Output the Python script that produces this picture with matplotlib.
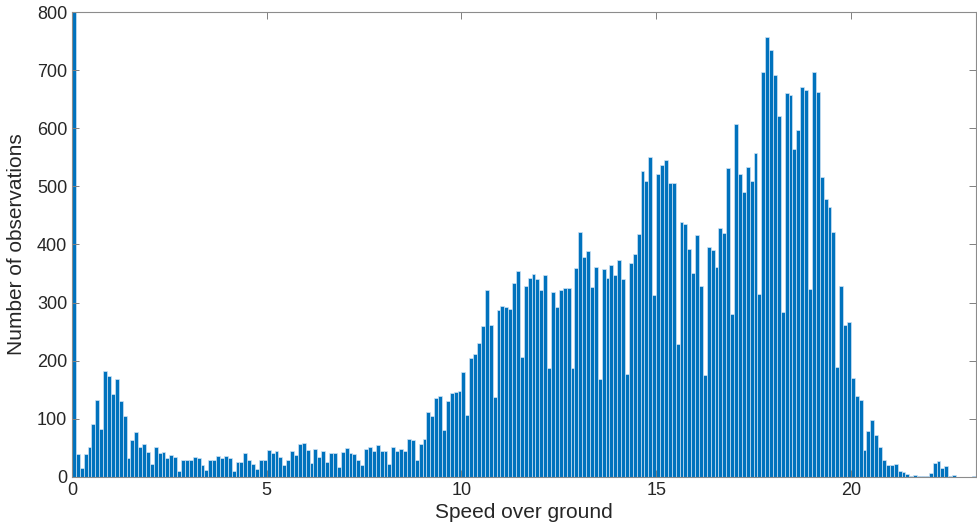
import matplotlib
matplotlib.use("Agg")
import matplotlib.pyplot as plt
import numpy as np

plt.rcParams['font.family'] = ['Liberation Sans', 'DejaVu Sans']

bin_width = 0.1
# counts per 0.1-knot bin starting at 0 (first bin exceeds the axis limit)
counts = [
    1200, 40, 15, 40, 52, 92, 132, 83, 183, 174,
    143, 168, 130, 105, 33, 64, 78, 52, 57, 43,
    22, 52, 41, 43, 33, 37, 35, 10, 29, 30,
    30, 34, 32, 21, 12, 29, 30, 36, 33, 36,
    33, 10, 25, 26, 42, 29, 23, 13, 30, 29,
    46, 41, 45, 34, 21, 29, 45, 37, 57, 58,
    46, 24, 49, 34, 45, 25, 42, 41, 18, 43,
    50, 42, 40, 30, 21, 48, 51, 45, 55, 45,
    45, 22, 51, 44, 48, 45, 65, 64, 29, 56,
    65, 112, 105, 136, 139, 80, 130, 144, 146, 148,
    180, 107, 205, 211, 230, 259, 321, 261, 138, 288,
    295, 292, 289, 333, 355, 206, 329, 342, 349, 340,
    322, 348, 187, 318, 292, 321, 326, 326, 187, 360,
    422, 379, 388, 327, 362, 168, 357, 342, 364, 347,
    373, 340, 177, 368, 384, 418, 526, 509, 550, 313,
    522, 536, 545, 506, 506, 228, 438, 436, 392, 351,
    417, 329, 175, 395, 390, 362, 429, 420, 532, 281,
    607, 521, 491, 534, 509, 557, 315, 697, 757, 735,
    691, 621, 284, 661, 657, 564, 597, 671, 666, 323,
    696, 663, 516, 479, 465, 421, 190, 329, 261, 266,
    171, 140, 133, 46, 79, 98, 73, 52, 30, 21,
    21, 23, 11, 9, 5, 2, 3, 1, 2, 2,
    7, 24, 28, 15, 19, 2, 3, 0, 0, 0,
    0, 2,
]
x_ticks = [0, 5, 10, 15, 20]
y_ticks = [0, 100, 200, 300, 400, 500, 600, 700, 800]

edges = np.arange(len(counts) + 1) * bin_width

fig = plt.figure(figsize=(9.77, 5.31), dpi=100)
ax = fig.add_axes([0.0737, 0.1017, 0.9248, 0.8757])

ax.bar(edges[:-1], counts, width=bin_width, align='edge',
       color='#0072BD', edgecolor='#cfe3f4', linewidth=0.5)

ax.set_xlim(0, edges[-1])
ax.set_ylim(0, 800)
ax.set_xticks(x_ticks)
ax.set_yticks(y_ticks)
ax.tick_params(direction='in', top=True, right=True, length=5,
               width=0.7, color='#808080', labelsize=13, labelcolor='#262626')
for s in ax.spines.values():
    s.set_color('#8c8c8c')
    s.set_linewidth(0.8)

ax.set_xlabel('Speed over ground', fontsize=15, color='#262626', labelpad=3)
ax.set_ylabel('Number of observations', fontsize=15, color='#262626', labelpad=8)

fig.savefig('out.png', dpi=100)
